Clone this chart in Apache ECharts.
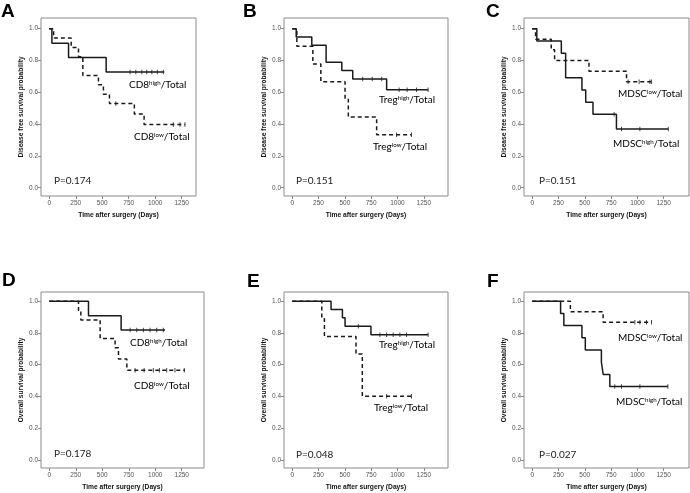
<!DOCTYPE html>
<html><head><meta charset="utf-8">
<script src="https://cdn.jsdelivr.net/npm/echarts@6/dist/echarts.min.js"></script>
<style>html,body{margin:0;padding:0;background:#fff}#c{width:690px;height:493px}</style>
</head><body><div id="c"></div>
<script>
// ---------------- DATA (Kaplan–Meier steps: event times / survival after event, end of follow-up, censor times)
const xTicks = [0, 250, 500, 750, 1000, 1250];
const yTicks = [0, 0.2, 0.4, 0.6, 0.8, 1.0];
const panelLetters = ['A', 'B', 'C', 'D', 'E', 'F'];
const yTitles = ['Disease free survival probability', 'Disease free survival probability', 'Disease free survival probability',
                 'Overall survival probability', 'Overall survival probability', 'Overall survival probability'];
const xTitle = 'Time after surgery (Days)';
const markers = ['CD8', 'Treg', 'MDSC', 'CD8', 'Treg', 'MDSC'];
const pValues = ['P=0.174', 'P=0.151', 'P=0.151', 'P=0.178', 'P=0.048', 'P=0.027'];

// Panel A (DFS, CD8)
const aHighT = [0, 25, 182, 537];
const aHighS = [1, 0.909, 0.818, 0.727];
const aHighEnd = 1086;
const aHighCens = [763, 817, 873, 920, 968, 1020, 1077];
const aLowT = [0, 41, 207, 276, 317, 464, 511, 568, 803, 895];
const aLowS = [1, 0.941, 0.882, 0.824, 0.706, 0.647, 0.588, 0.529, 0.463, 0.397];
const aLowEnd = 1281;
const aLowCens = [628, 1171, 1234, 1281];

// Panel B (DFS, Treg)
const bHighT = [0, 38, 186, 322, 471, 575, 897];
const bHighS = [1, 0.947, 0.895, 0.789, 0.737, 0.684, 0.616];
const bHighEnd = 1291;
const bHighCens = [669, 760, 850, 1016, 1092, 1181, 1291];
const bLowT = [0, 44, 196, 272, 502, 533, 802];
const bLowS = [1, 0.889, 0.778, 0.667, 0.556, 0.444, 0.333];
const bLowEnd = 1133;
const bLowCens = [991, 1133];

// Panel C (DFS, MDSC)
const cHighT = [0, 44, 277, 318, 473, 509, 578, 801];
const cHighS = [1, 0.923, 0.846, 0.692, 0.615, 0.538, 0.462, 0.369];
const cHighEnd = 1294;
const cHighCens = [779, 849, 1024, 1294];
const cLowT = [0, 32, 181, 213, 540, 897];
const cLowS = [1, 0.933, 0.867, 0.800, 0.733, 0.667];
const cLowEnd = 1135;
const cLowCens = [912, 1017, 1119, 1135];

// Panel D (OS, CD8)
const dHighT = [0, 370, 678];
const dHighS = [1, 0.909, 0.818];
const dHighEnd = 1092;
const dHighCens = [763, 826, 888, 951, 1014, 1076];
const dLowT = [0, 276, 298, 480, 621, 653, 732];
const dLowS = [1, 0.941, 0.882, 0.765, 0.706, 0.635, 0.565];
const dLowEnd = 1281;
const dLowCens = [810, 895, 982, 1039, 1108, 1186, 1274];

// Panel E (OS, Treg)
const eHighT = [0, 369, 477, 502, 748];
const eHighS = [1, 0.947, 0.895, 0.842, 0.789];
const eHighEnd = 1291;
const eHighCens = [628, 833, 897, 959, 1023, 1086, 1291];
const eLowT = [0, 281, 306, 606, 666];
const eLowS = [1, 0.889, 0.778, 0.667, 0.400];
const eLowEnd = 1133;
const eLowCens = [897, 1133];

// Panel F (OS, MDSC)
const fHighT = [0, 270, 301, 473, 505, 658, 675, 738];
const fHighS = [1, 0.923, 0.846, 0.769, 0.692, 0.615, 0.538, 0.462];
const fHighEnd = 1290;
const fHighCens = [785, 849, 1024, 1290];
const fLowT = [0, 363, 674];
const fLowS = [1, 0.933, 0.867];
const fLowEnd = 1135;
const fLowCens = [976, 1024, 1087, 1135];

const panels = [
  {high: [aHighT, aHighS, aHighEnd, aHighCens], low: [aLowT, aLowS, aLowEnd, aLowCens]},
  {high: [bHighT, bHighS, bHighEnd, bHighCens], low: [bLowT, bLowS, bLowEnd, bLowCens]},
  {high: [cHighT, cHighS, cHighEnd, cHighCens], low: [cLowT, cLowS, cLowEnd, cLowCens]},
  {high: [dHighT, dHighS, dHighEnd, dHighCens], low: [dLowT, dLowS, dLowEnd, dLowCens]},
  {high: [eHighT, eHighS, eHighEnd, eHighCens], low: [eLowT, eLowS, eLowEnd, eLowCens]},
  {high: [fHighT, fHighS, fHighEnd, fHighCens], low: [fLowT, fLowS, fLowEnd, fLowCens]}
];

// ---------------- LAYOUT / STYLE
const layout = [
  {left: 41, top: 18, width: 155, height: 178, xMax: 1385, yMax: 1.067},
  {left: 284, top: 18, width: 164, height: 178, xMax: 1480, yMax: 1.067},
  {left: 524, top: 18, width: 165, height: 178, xMax: 1491, yMax: 1.067},
  {left: 41, top: 292, width: 163, height: 176, xMax: 1460, yMax: 1.058},
  {left: 284, top: 292, width: 164, height: 176, xMax: 1480, yMax: 1.058},
  {left: 524, top: 292, width: 165, height: 176, xMax: 1491, yMax: 1.058}
];
const letterPos = [[1, 12], [243, 12], [486, 12], [2, 281], [247, 282], [487, 282]];
// [left, centerY] for high label, low label, p-value
const labelPos = [
  {high: [129, 85], low: [134, 137], p: [54, 181]},
  {high: [379, 100], low: [373, 147], p: [296, 181]},
  {high: [613, 144], low: [618, 94], p: [539, 181]},
  {high: [130, 343], low: [134, 386], p: [54, 454]},
  {high: [379, 345], low: [374, 408], p: [296, 455]},
  {high: [616, 402], low: [618, 338], p: [539, 455]}
];

const INK = '#1a1a1a';
const AXIS_GRAY = '#8a8a8a';
const TICK_FONT = 'Liberation Sans';
const ANN_FONT = 'Lato';

function stepData(T, S, end) {
  const d = T.map((t, i) => [t, S[i]]);
  d.push([end, S[S.length - 1]]);
  return d;
}
function censorData(T, S, cens) {
  return cens.map(c => {
    let s = S[0];
    for (let i = 0; i < T.length; i++) if (T[i] <= c) s = S[i];
    return [c, s];
  });
}

const grid = [], xAxis = [], yAxis = [], series = [], graphic = [];
layout.forEach((L, i) => {
  grid.push({left: L.left, top: L.top, width: L.width, height: L.height, show: true,
    borderColor: AXIS_GRAY, borderWidth: 1, backgroundColor: '#fff', containLabel: false});
  xAxis.push({type: 'value', gridIndex: i, min: -78, max: L.xMax,
    axisLine: {show: false, onZero: false},
    axisTick: {show: true, customValues: xTicks, length: 3, lineStyle: {color: AXIS_GRAY, width: 1}},
    axisLabel: {customValues: xTicks, fontSize: 6.5, color: '#555', fontFamily: TICK_FONT, margin: 4,
      formatter: v => String(Math.round(v))},
    splitLine: {show: false},
    name: xTitle, nameLocation: 'middle', nameGap: 16,
    nameTextStyle: {fontSize: 6.7, fontWeight: 'bold', color: '#111', fontFamily: TICK_FONT}
  });
  yAxis.push({type: 'value', gridIndex: i, min: -0.052, max: L.yMax,
    axisLine: {show: false, onZero: false},
    axisTick: {show: true, customValues: yTicks, length: 3, lineStyle: {color: AXIS_GRAY, width: 1}},
    axisLabel: {customValues: yTicks, fontSize: 6.5, color: '#555', fontFamily: TICK_FONT, margin: 3,
      formatter: v => v.toFixed(1)},
    splitLine: {show: false},
    name: yTitles[i], nameLocation: 'middle', nameGap: 16, nameRotate: 90,
    nameTextStyle: {fontSize: 6.6, fontWeight: 'bold', color: '#111', fontFamily: TICK_FONT}
  });
  const P = panels[i];
  [['high', 'solid'], ['low', [4, 3]]].forEach(([k, type]) => {
    const [T, S, end, cens] = P[k];
    series.push({type: 'line', xAxisIndex: i, yAxisIndex: i, step: 'end', symbol: 'none',
      data: stepData(T, S, end), lineStyle: {color: INK, width: 1.5, type: type}, silent: true});
    series.push({type: 'scatter', xAxisIndex: i, yAxisIndex: i, symbol: 'rect', symbolSize: [1, 4.5],
      data: censorData(T, S, cens), itemStyle: {color: INK}, silent: true});
  });
  graphic.push({type: 'text', x: letterPos[i][0], y: letterPos[i][1],
    style: {text: panelLetters[i], font: 'bold 19px "Liberation Sans"', fill: '#000', verticalAlign: 'middle'}});
  const lp = labelPos[i];
  const rich = {n: {fontSize: 10, fontFamily: ANN_FONT, color: '#222'},
                s: {fontSize: 6.2, fontFamily: ANN_FONT, color: '#222', verticalAlign: 'top', lineHeight: 10}};
  graphic.push({type: 'text', x: lp.high[0], y: lp.high[1],
    style: {text: '{n|' + markers[i] + '}{s|high}{n|/Total}', rich: rich, verticalAlign: 'middle'}});
  graphic.push({type: 'text', x: lp.low[0], y: lp.low[1],
    style: {text: '{n|' + markers[i] + '}{s|low}{n|/Total}', rich: rich, verticalAlign: 'middle'}});
  graphic.push({type: 'text', x: lp.p[0], y: lp.p[1],
    style: {text: pValues[i], font: '10px ' + ANN_FONT, fill: '#222', verticalAlign: 'middle'}});
});

const chart = echarts.init(document.getElementById('c'), null, {renderer: 'canvas'});
chart.setOption({animation: false, backgroundColor: '#fff', grid, xAxis, yAxis, series, graphic});
</script></body></html>
